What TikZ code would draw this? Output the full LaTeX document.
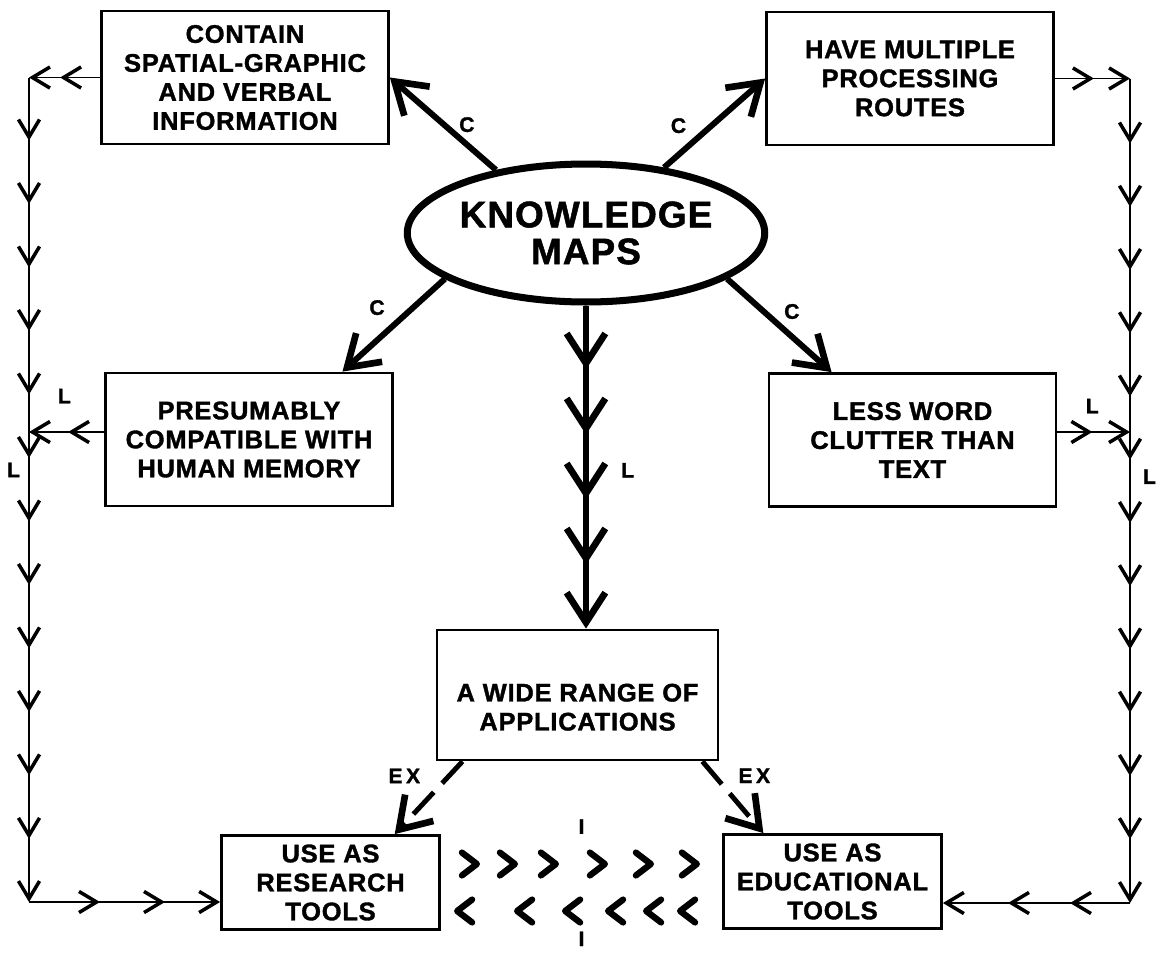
\documentclass[tikz,border=0pt]{standalone}
\usepackage{fontspec}
\setmainfont{Liberation Sans}[LetterSpace=3, BoldFeatures={FakeBold=1.4}]
\usetikzlibrary{shapes.geometric}
\usetikzlibrary{positioning}
\usetikzlibrary{arrows.meta}
\usetikzlibrary{decorations.markings}
\tikzset{
    vb/.tip = {Straight Barb[length=10pt,width=12pt,line width=2pt]},
    VB/.tip = {Straight Barb[length=17pt,width=22pt,line width=3.8pt]},
    box/.style = {rectangle, line width=1.6pt, draw=black, align=center, minimum width=5.74cm, minimum height=2.66cm, inner sep=2pt, font=\bfseries\fontsize{14.5}{16.5}\selectfont},
    smallbox/.style = {box, minimum width=4.36cm, minimum height=1.88cm},
    mapnode/.style = {ellipse, line width=4pt, draw=black, align=center, minimum width=7.12cm, minimum height=2.76cm, inner sep=0pt, font=\bfseries\fontsize{21}{21}\selectfont},
    tag/.style = {inner sep=1pt, font=\bfseries\fontsize{12}{12}\selectfont},
    edgec/.style = {line width=3.4pt, -VB},
    edgel/.style = {line width=3pt, -VB},
    edgeex/.style = {line width=2.8pt, dash pattern=on 17pt off 7pt, -VB},
    edget/.style = {line width=1.1pt, -vb},
    barbat/.style = {postaction={decorate,decoration={markings,mark=at position #1 with {\arrow{vb}}}}},
    barbrow/.style = {postaction={decorate,decoration={markings,mark=between positions #1 with {\arrow{vb}}}}},
    bigbarbrow/.style = {postaction={decorate,decoration={markings,mark=between positions #1 with {\arrow{VB}}}}},
    chevron/.style = {line width=3.6pt, line cap=round, line join=round},
    chevat/.style = {postaction={decorate,decoration={markings,mark=at position #1 with {\chev}}}}
}
\newcommand{\chev}{\draw[chevron] (-8.5pt,-6.5pt) -- (0pt,0pt) -- (-8.5pt,6.5pt);}

\begin{document}
\begin{tikzpicture}[x=0.02cm, y=-0.02cm]
\useasboundingbox (0,0) rectangle (1156,954);
\node[mapnode] at (586, 233) (km) {KNOWLEDGE\\MAPS};
\node[box] at (245, 77.5) (contain) {CONTAIN\\SPATIAL-GRAPHIC\\AND VERBAL\\INFORMATION};
\node[box] at (910, 78.5) (multi) {HAVE MULTIPLE\\PROCESSING\\ROUTES};
\node[box] at (249, 439.5) (presum) {PRESUMABLY\\COMPATIBLE WITH\\HUMAN MEMORY};
\node[box] at (912.5, 440) (clutter) {LESS WORD\\CLUTTER THAN\\TEXT};
\node[box, minimum width=5.62cm, minimum height=2.6cm] at (577.5, 695) (apps) {\rule{0pt}{24pt}A WIDE RANGE OF\\APPLICATIONS};
\node[smallbox] at (330.5, 882.5) (research) {USE AS\\RESEARCH\\TOOLS};
\node[smallbox] at (832.5, 881.5) (educ) {USE AS\\EDUCATIONAL\\TOOLS};
%
\coordinate (tl) at (29, 77.5);
\coordinate (bl) at (29, 902);
\coordinate (tr) at (1130, 78.5);
\coordinate (br) at (1130, 903);
\coordinate (lj) at (29, 432);
\coordinate (rj) at (1130, 432);
\coordinate (fwd) at (0, 864);
\coordinate (bwd) at (0, 911);
% characteristics
\draw[edgec] (km.145) -- node[tag, pos=0.49, right=6pt] {C} (contain.east);
\draw[edgec] (km.40) -- node[tag, pos=0.47, left=11.8pt] {C} (multi.west);
\draw[edgec] (km.198) -- node[tag, pos=0.31, left=13.5pt] {C} (presum.36);
\draw[edgec] (km.342) -- node[tag, pos=0.35, right=9pt] {C} (clutter.140);
\draw[edgel, bigbarbrow={1.28cm and 5.3cm step 1.3cm}] (km.south) -- node[tag, pos=0.51, right=17.5pt] {L} (km.south |- apps.north);
% examples
\draw[edgeex] (apps.210) -- node[tag, pos=0.2, left=14pt] {E\,X} (research.37);
\draw[edgeex] (apps.332) -- node[tag, pos=0.2, right=11.2pt] {E\,X} (educ.145);
% left return
\draw[edget, barbat=0.8cm] (contain.west) -- (tl);
\draw[edget, barbrow={1.26cm and 15.3cm step 1.27cm}] (tl) -- node[tag, pos=0.476, left=3.6pt] {L} (bl);
\draw[edget, barbrow={1.42cm and 2.8cm step 1.3cm}] (bl) -- (bl -| research.west);
\draw[edget, barbat=0.72cm] (presum.west |- lj) -- node[tag, pos=0.53, above=14.8pt] {L} (lj);
% right return
\draw[edget, barbat=0.78cm] (multi.east) -- (tr);
\draw[edget, barbrow={1.3cm and 15.3cm step 1.265cm}] (tr) -- node[tag, pos=0.483, right=5.8pt] {L} (br);
\draw[edget, barbrow={1.2cm and 2.5cm step 1.24cm}] (br) -- (br -| educ.east);
\draw[edget, barbat=0.7cm] (clutter.east |- rj) -- node[tag, pos=0.48, above=9.1pt] {L} (rj);
% interaction
\path[chevat=0.72cm, chevat=1.48cm, chevat=2.3cm, chevat=3.28cm, chevat=4.2cm, chevat=5.12cm]
    (research.east |- fwd) -- node[tag, above=16pt] {I} (educ.west |- fwd);
\path[chevat=0.84cm, chevat=1.52cm, chevat=2.28cm, chevat=3.14cm, chevat=4.1cm, chevat=5.3cm]
    (educ.west |- bwd) -- node[tag, below=10.5pt] {I} (research.east |- bwd);
\end{tikzpicture}
\end{document}
